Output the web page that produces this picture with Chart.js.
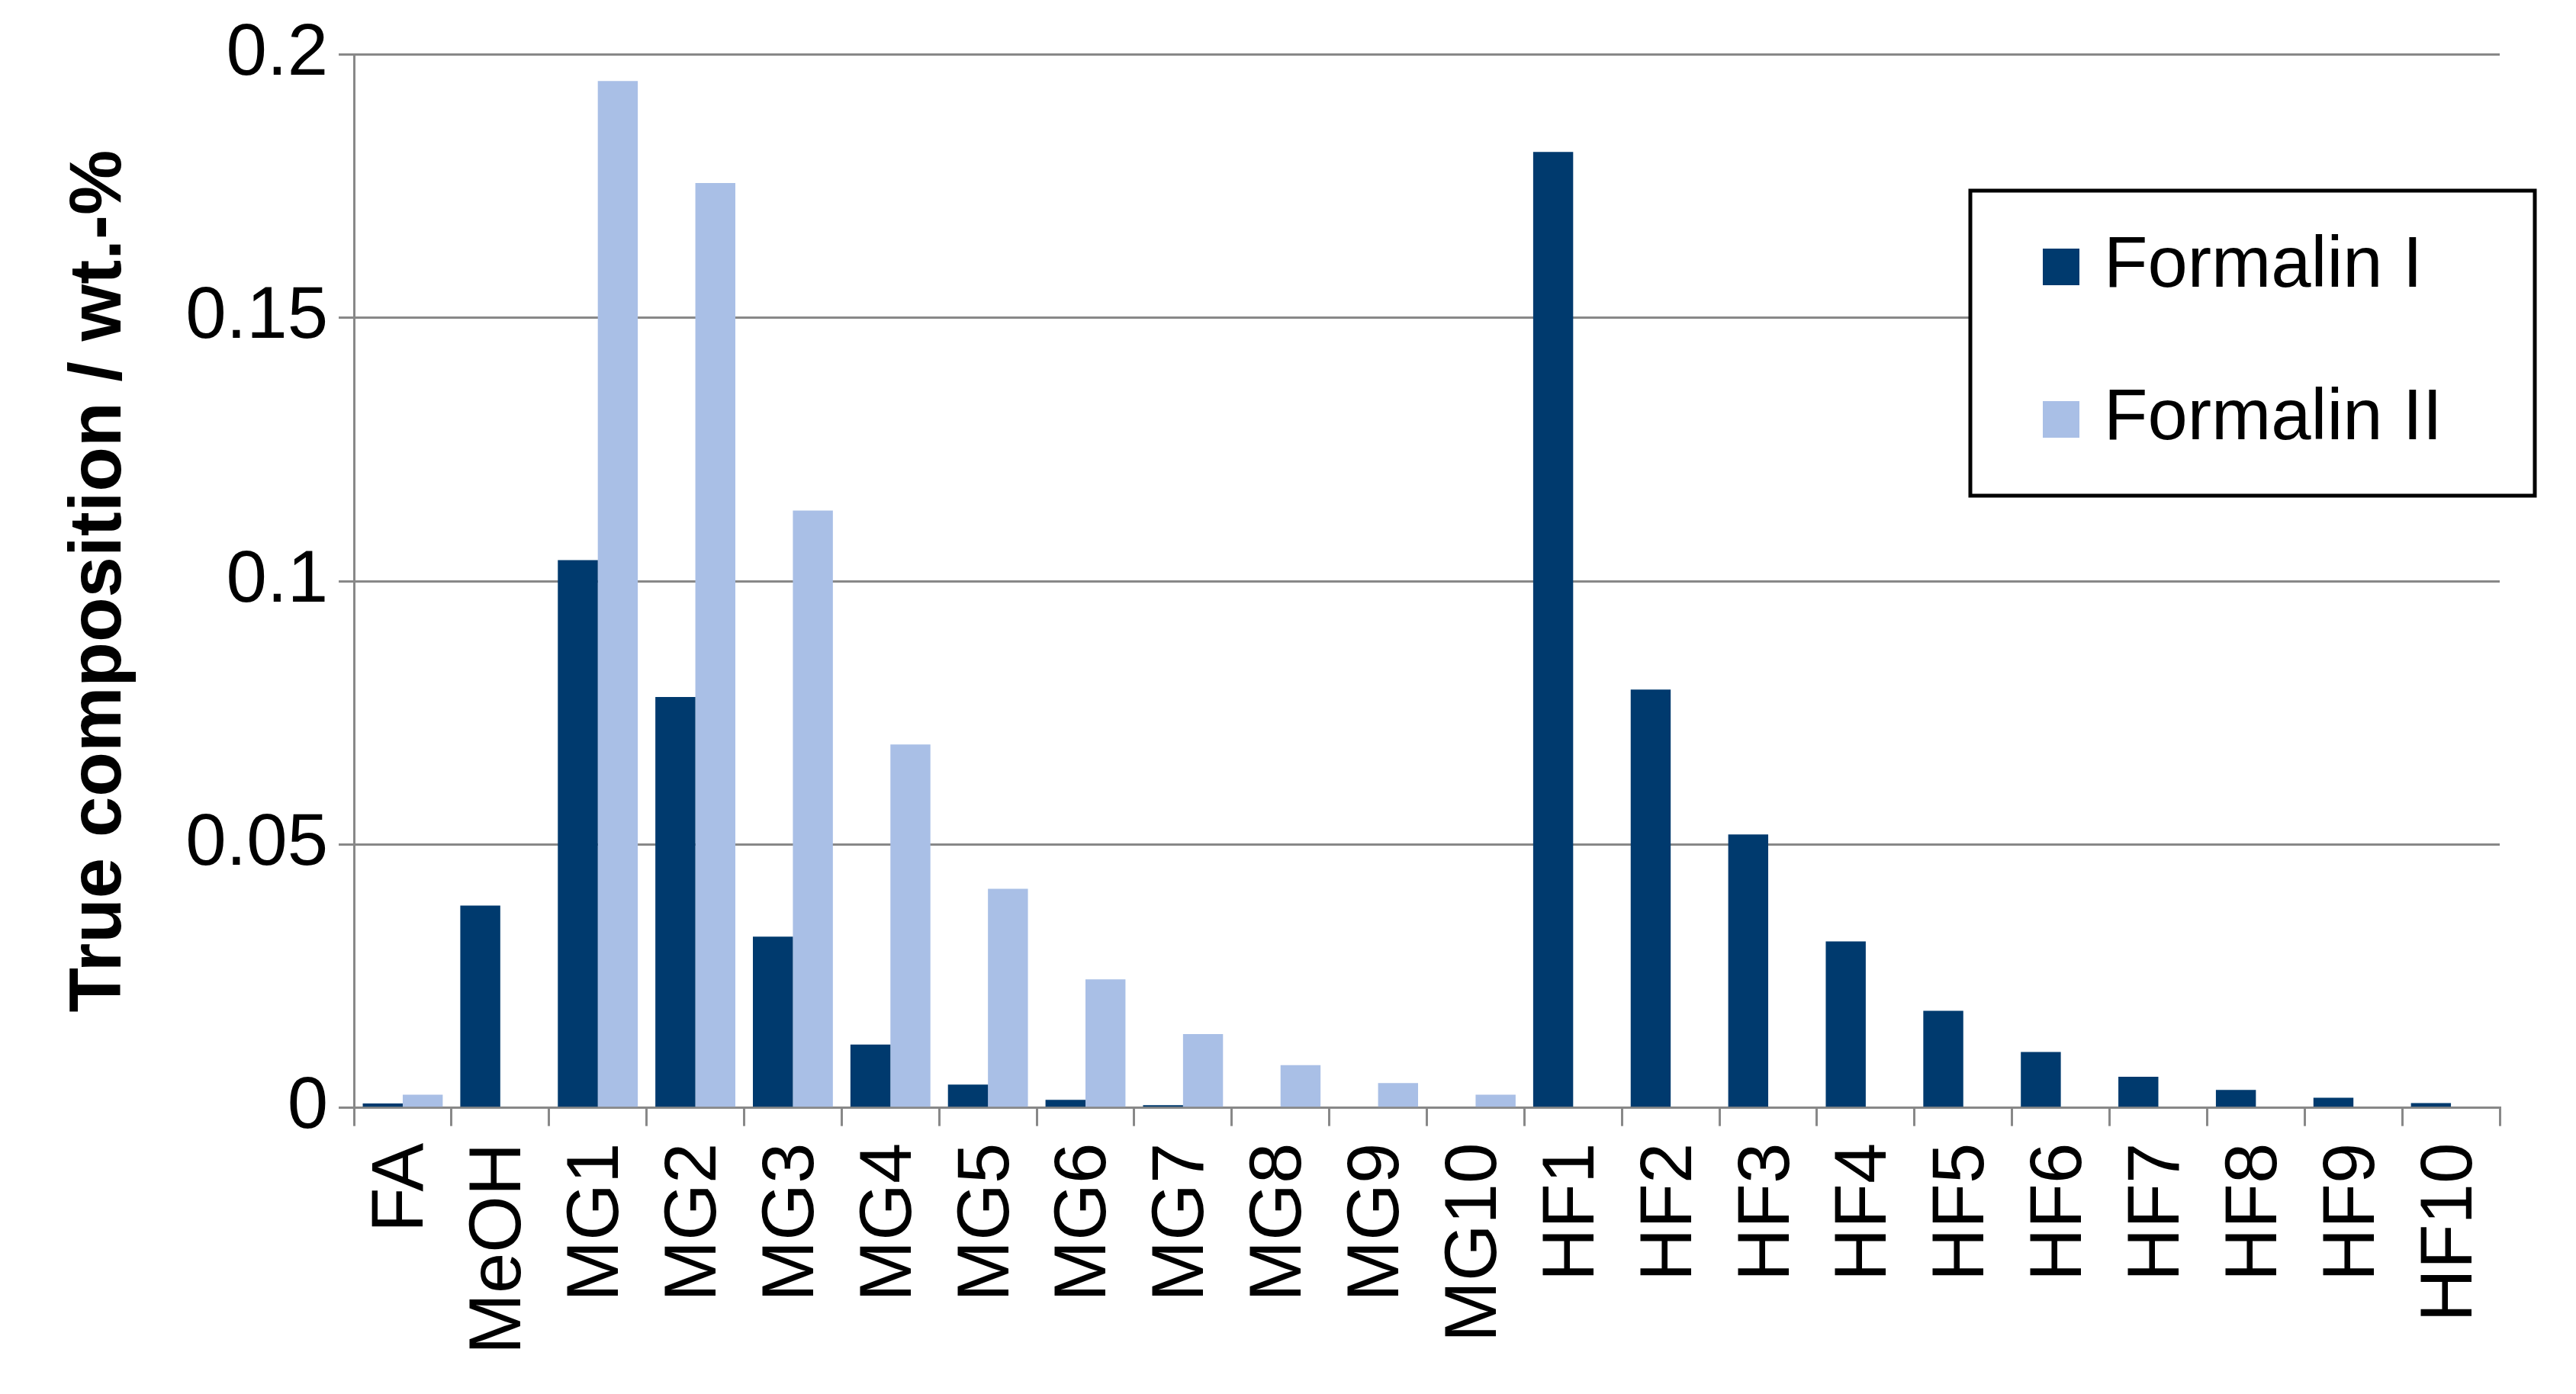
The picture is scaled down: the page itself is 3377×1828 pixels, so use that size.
<!DOCTYPE html>
<html><head><meta charset="utf-8">
<script src="https://cdn.jsdelivr.net/npm/chart.js@4"></script>
<style>html,body{margin:0;padding:0;background:#fff}#w{width:3377px;height:1828px}</style>
</head><body><div id="w"><canvas id="c"></canvas></div>
<script>
const categories=["FA","MeOH","MG1","MG2","MG3","MG4","MG5","MG6","MG7","MG8","MG9","MG10","HF1","HF2","HF3","HF4","HF5","HF6","HF7","HF8","HF9","HF10"];
const formalinI=[0.0008,0.0384,0.104,0.078,0.0325,0.012,0.0044,0.0015,0.0005,0,0,0,0.1815,0.0794,0.0519,0.0316,0.0184,0.0106,0.0059,0.0034,0.0019,0.0009];
const formalinII=[0.0025,0,0.195,0.1756,0.1134,0.069,0.0416,0.0244,0.014,0.0081,0.0047,0.0025,0,0,0,0,0,0,0,0,0,0];
const yTicks=[0,0.05,0.1,0.15,0.2];
const seriesNames=["Formalin I","Formalin II"];
const colors=["#003a6e","#a9bfe6"];
const F="'Liberation Sans', Arial, sans-serif";
const legendPlugin={id:'lg',afterDraw(ch){const c=ch.ctx;c.save();
 const x=2583,y=250,w=740,h=400;c.lineWidth=5;c.strokeStyle='#000';c.fillStyle='#fff';c.fillRect(x,y,w,h);c.strokeRect(x,y,w,h);
 c.font="94px "+F;c.textBaseline='middle';
 seriesNames.forEach((n,i)=>{const cy=y+100+i*200;c.fillStyle=colors[i];c.fillRect(x+95,cy-24,48,48);c.fillStyle='#000';c.fillText(n,x+175,cy);});
 c.restore();}};
new Chart(document.getElementById('c'),{type:'bar',
 data:{labels:categories,datasets:[{label:seriesNames[0],data:formalinI,backgroundColor:colors[0]},{label:seriesNames[1],data:formalinII,backgroundColor:colors[1]}]},
 options:{responsive:true,maintainAspectRatio:false,animation:false,
  layout:{padding:{top:50,right:100,left:70,bottom:30}},
  datasets:{bar:{categoryPercentage:0.82,barPercentage:1}},
  plugins:{legend:{display:false},tooltip:{enabled:false}},
  scales:{
   x:{grid:{offset:true,drawOnChartArea:false,color:'#888',lineWidth:3,tickLength:24},border:{color:'#888',width:3},
      ticks:{color:'#000',font:{family:F,size:96},minRotation:90,maxRotation:90,autoSkip:false,padding:22}},
   y:{min:0,max:0.2,afterBuildTicks(a){a.ticks=yTicks.map(v=>({value:v}));},
      grid:{color:'#888',lineWidth:3,tickLength:20},border:{color:'#888',width:3},
      ticks:{color:'#000',font:{family:F,size:96},padding:14,callback:v=>String(v)},
      title:{display:true,text:'True composition / wt.-%',color:'#000',font:{family:F,size:96,weight:'bold'},padding:{bottom:40}}}}},
 plugins:[legendPlugin]});
</script></body></html>
